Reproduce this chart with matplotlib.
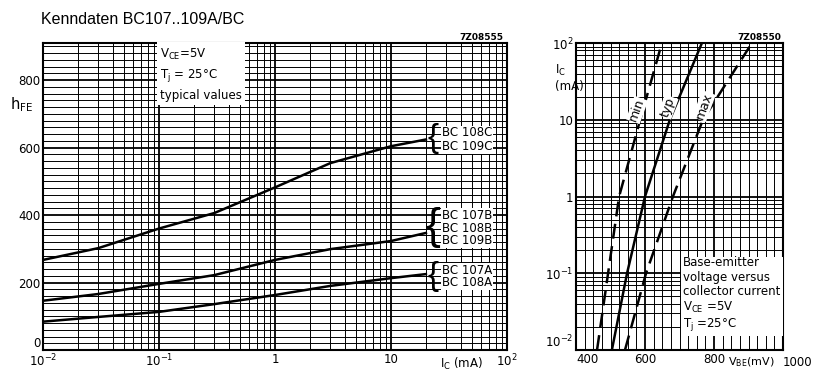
import numpy as np
import matplotlib
matplotlib.use('Agg')
import matplotlib.pyplot as plt
from matplotlib.ticker import FixedLocator, MultipleLocator, NullFormatter

# hFE vs IC (left chart)
ic_ma = [0.01, 0.03, 0.1, 0.3, 1, 3, 10, 20]
hfe_c = [267, 302, 360, 406, 482, 554, 604, 624]
hfe_b = [146, 166, 196, 222, 267, 299, 323, 347]
hfe_a = [84, 98, 113, 136, 163, 190, 213, 225]
group_labels = [['BC 108C', 'BC 109C'],
                ['BC 107B', 'BC 108B', 'BC 109B'],
                ['BC 107A', 'BC 108A']]

# VBE vs IC (right chart)
ic_vbe = [0.01, 0.1, 1, 10, 100]
vbe_min = [461, 493, 525, 586, 649]
vbe_typ = [504, 548, 600, 672, 765]
vbe_max = [542, 603, 681, 768, 910]

W, H = 815, 372


def fx(px):
    return px / W


def fy(py):
    return 1 - py / H


fig = plt.figure(figsize=(8.15, 3.72), dpi=100)
fig.patch.set_facecolor('white')

# ---------- left chart ----------
ax = fig.add_axes([fx(43), fy(350), (507 - 43) / W, (350 - 43) / H])
ax.set_xscale('log')
ax.set_xlim(0.01, 100)
ax.set_ylim(0, 910)
ax.xaxis.set_major_locator(FixedLocator([0.01, 0.1, 1, 10, 100]))
ax.xaxis.set_minor_locator(FixedLocator([m * 10.0 ** e for e in range(-2, 2) for m in range(2, 10)]))
ax.xaxis.set_minor_formatter(NullFormatter())
ax.set_xticklabels(['10$^{-2}$', '10$^{-1}$', '1', '10', '10$^{2}$'])
ax.yaxis.set_major_locator(FixedLocator([0, 200, 400, 600, 800]))
ax.yaxis.set_minor_locator(MultipleLocator(20))
ax.set_yticklabels(['0', '200', '400', '600', '800'])
ax.grid(which='major', color='black', lw=1.3)
ax.grid(which='minor', color='black', lw=0.7)
ax.tick_params(which='both', length=0, labelsize=8.5, pad=2)
ax.get_yticklabels()[0].set_va('bottom')
for s in ax.spines.values():
    s.set_linewidth(1.5)

for ys in (hfe_c, hfe_b, hfe_a):
    ax.plot(ic_ma, ys, color='black', lw=1.8, zorder=3)

# brace group labels
name_y = [[133, 147], [215, 228, 241], [270, 283]]
brace_y = [139, 227, 276]
for names, ys, by in zip(group_labels, name_y, brace_y):
    size = 24 if len(names) == 2 else 32
    fig.text(fx(433), fy(by), '{', fontsize=size, ha='center', va='center',
             family='Liberation Sans')
    for nm, py in zip(names, ys):
        fig.text(fx(442), fy(py), nm, fontsize=8.5, ha='left', va='center',
                 bbox=dict(facecolor='white', edgecolor='none', pad=0.6), zorder=5)

fig.text(fx(160), fy(47), 'V$_{\\rm CE}$=5V\nT$_{\\rm j}$ = 25°C\ntypical values',
         fontsize=8.5, ha='left', va='top', linespacing=1.45,
         bbox=dict(facecolor='white', edgecolor='none', pad=2.5))

fig.text(fx(41), fy(20), 'Kenndaten BC107..109A/BC', fontsize=11.5,
         family='Liberation Sans', ha='left', va='center')
fig.text(fx(503), fy(38), '7Z08555', fontsize=6.5, fontweight='bold', ha='right', va='center')
fig.text(fx(10), fy(105), 'h$_{\\rm FE}$', fontsize=10.5, ha='left', va='center')
fig.text(fx(462), fy(364), 'I$_{\\rm C}$ (mA)', fontsize=8.5, ha='center', va='center')

# ---------- right chart ----------
ax2 = fig.add_axes([fx(576), fy(350), (783 - 576) / W, (350 - 43) / H])
ax2.set_yscale('log')
ax2.set_ylim(0.01, 100)
ax2.set_xlim(400, 1000)
ax2.yaxis.set_major_locator(FixedLocator([0.01, 0.1, 1, 10, 100]))
ax2.yaxis.set_minor_locator(FixedLocator([m * 10.0 ** e for e in range(-2, 2) for m in range(2, 10)]))
ax2.yaxis.set_minor_formatter(NullFormatter())
ax2.set_yticklabels(['10$^{-2}$', '10$^{-1}$', '1', '10', '10$^{2}$'])
ax2.xaxis.set_major_locator(FixedLocator([400, 600, 800, 1000]))
ax2.xaxis.set_minor_locator(MultipleLocator(25))
ax2.set_xticklabels(['400', '600', '800', ''])
ax2.grid(which='major', color='black', lw=1.3)
ax2.grid(which='minor', color='black', lw=0.7)
ax2.tick_params(which='both', length=0, labelsize=8.5, pad=2)
ax2.get_yticklabels()[0].set_va('bottom')
ax2.get_xticklabels()[0].set_ha('left')
for s in ax2.spines.values():
    s.set_linewidth(1.5)

ax2.plot(vbe_min, ic_vbe, color='black', lw=1.8, dashes=(6, 3), zorder=3)
ax2.plot(vbe_typ, ic_vbe, color='black', lw=1.8, zorder=3)
ax2.plot(vbe_max, ic_vbe, color='black', lw=1.8, dashes=(6, 3), zorder=3)

for txt, px, py in [('min', 637, 110), ('typ', 668, 107), ('max', 704, 106)]:
    fig.text(fx(px), fy(py), txt, fontsize=9, rotation=70, ha='center', va='center',
             bbox=dict(facecolor='white', edgecolor='none', pad=0.5), zorder=5)

fig.text(fx(683), fy(256), 'Base-emitter\nvoltage versus\ncollector current\nV$_{\\rm CE}$ =5V\nT$_{\\rm j}$ =25°C',
         fontsize=8.5, ha='left', va='top', linespacing=1.15,
         bbox=dict(facecolor='white', edgecolor='none', pad=1.5))

fig.text(fx(781), fy(37), '7Z08550', fontsize=6.5, fontweight='bold', ha='right', va='center')
fig.text(fx(555), fy(78), 'I$_{\\rm C}$\n(mA)', fontsize=8.5, ha='left', va='center', linespacing=1.2)
fig.text(fx(751), fy(362), 'V$_{\\rm BE}$(mV)', fontsize=8, ha='center', va='center')
fig.text(fx(812), fy(362), '1000', fontsize=8.5, ha='right', va='center')

fig.savefig('out.png', dpi=100, facecolor='white')
